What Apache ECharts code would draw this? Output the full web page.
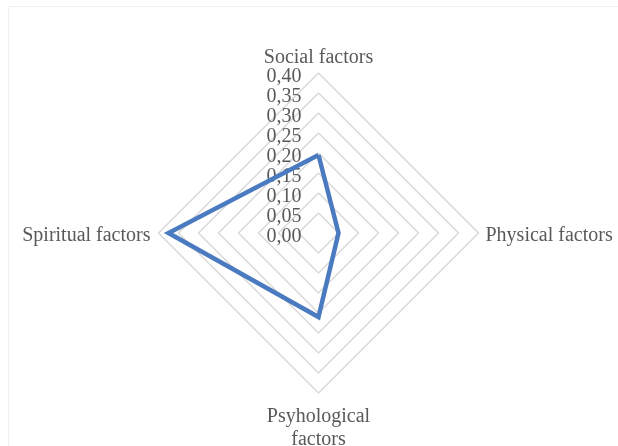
<!DOCTYPE html>
<html>
<head>
<meta charset="utf-8">
<script src="https://cdn.jsdelivr.net/npm/echarts@6/dist/echarts.min.js"></script>
<style>
html,body{margin:0;padding:0;background:#fff;}
#c{width:618px;height:446px;}
</style>
</head>
<body>
<div id="c"></div>
<script>
// Indicator order follows ECharts' counter-clockwise layout from the top
const categories = ['Social factors', 'Spiritual factors', 'Psyhological\nfactors', 'Physical factors'];
const values = [0.195, 0.375, 0.21, 0.05];
const axisMax = 0.40;
const tickStep = 0.05;

const FONT = "'Liberation Serif', 'Times New Roman', serif";
const GRAY = '#595959';
const NAME_GAPS = [4, 8, 12, 7];
const SIDE_NAMES = ['Spiritual factors', 'Physical factors'];

const chart = echarts.init(document.getElementById('c'), null, {renderer: 'canvas'});
chart.setOption({
  animation: false,
  backgroundColor: '#fff',
  graphic: [{
    type: 'rect',
    shape: {x: 8.5, y: 6.5, width: 640, height: 460},
    style: {fill: 'none', stroke: '#efefef', lineWidth: 1},
    silent: true
  }],
  radar: {
    center: [318.5, 233],
    radius: 160,
    shape: 'polygon',
    splitNumber: Math.round(axisMax / tickStep),
    nameGap: 7,
    nameMoveOverlap: false,
    axisName: {
      color: GRAY,
      fontSize: 20,
      fontFamily: FONT,
      lineHeight: 23,
      formatter: name => SIDE_NAMES.includes(name) ? '{s|' + name + '}' : name,
      rich: {
        s: {color: GRAY, fontSize: 20, fontFamily: FONT, padding: [6, 0, 0, 0]}
      }
    },
    axisLine: {show: false},
    axisTick: {show: false},
    splitArea: {show: false},
    splitLine: {lineStyle: {color: '#d9d9d9', width: 1.5}},
    axisLabel: {show: false},
    indicator: categories.map((name, i) => ({
      name: name,
      min: 0,
      max: axisMax,
      nameGap: NAME_GAPS[i],
      nameMoveOverlap: false,
      axisLabel: i === 0 ? {
        show: true,
        color: GRAY,
        fontSize: 20,
        fontFamily: FONT,
        margin: 17,
        showMinLabel: true,
        showMaxLabel: true,
        formatter: v => '{t|' + Number(v).toFixed(2).replace('.', ',') + '}',
        rich: {
          t: {color: GRAY, fontSize: 20, fontFamily: FONT, padding: [8, 0, 0, 0]}
        }
      } : {show: false}
    }))
  },
  series: [{
    type: 'radar',
    symbol: 'none',
    lineStyle: {color: '#4a7abf', width: 4.5, join: 'miter'},
    itemStyle: {color: '#4a7abf'},
    data: [{value: values}]
  }]
});
</script>
</body>
</html>
